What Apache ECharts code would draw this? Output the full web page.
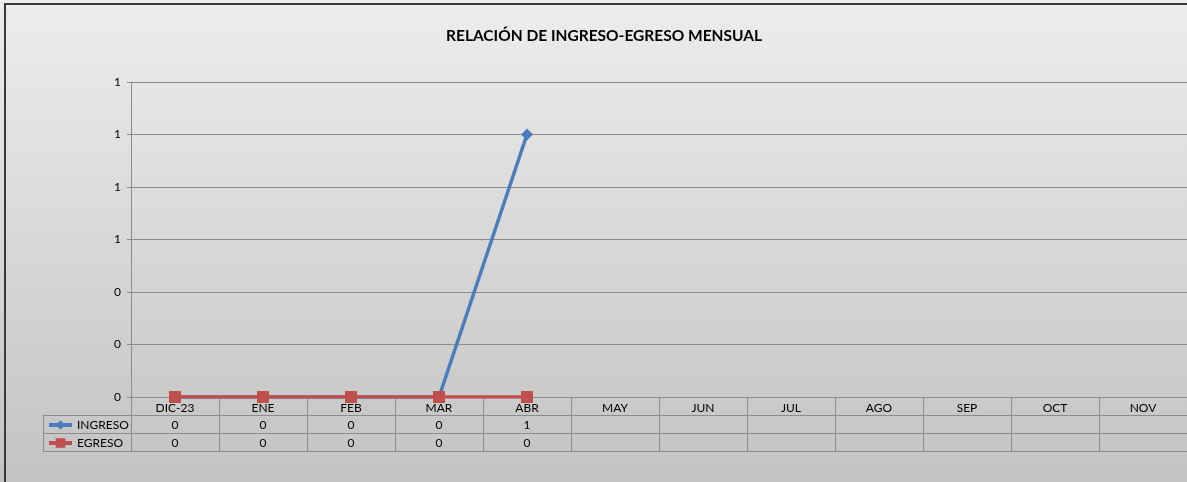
<!DOCTYPE html>
<html>
<head>
<meta charset="utf-8">
<script src="https://cdn.jsdelivr.net/npm/echarts@6/dist/echarts.min.js"></script>
<style>
  html, body { margin: 0; padding: 0; }
  #chart { width: 1187px; height: 482px; }
</style>
</head>
<body>
<div id="chart"></div>
<script>
// data
var months = ['DIC-23', 'ENE', 'FEB', 'MAR', 'ABR', 'MAY', 'JUN', 'JUL', 'AGO', 'SEP', 'OCT', 'NOV']
var ingreso = [0, 0, 0, 0, 1, null, null, null, null, null, null, null]
var egreso = [0, 0, 0, 0, 0, null, null, null, null, null, null, null]

var gridColor = '#8c8c8c'
var fontFam = 'Lato, "Open Sans", sans-serif'

function cellText(arr) {
  return function (v, i) {
    return arr[i] == null ? '' : String(arr[i])
  }
}

function tableAxis(offset, formatter) {
  return {
    type: 'category',
    data: months,
    position: 'bottom',
    offset: offset,
    boundaryGap: true,
    axisLine: { show: true, lineStyle: { color: gridColor, width: 1 } },
    axisTick: { show: false },
    axisLabel: {
      show: !!formatter,
      interval: 0,
      margin: 4,
      color: '#000',
      fontSize: 12,
      fontFamily: fontFam,
      formatter: formatter || ''
    },
    splitLine: { show: false }
  }
}

var chart = echarts.init(document.getElementById('chart'))
var option = {
  backgroundColor: new echarts.graphic.LinearGradient(0, 0, 0, 1, [
    { offset: 0, color: '#ededed' },
    { offset: 1, color: '#c3c3c3' }
  ]),
  animation: false,
  title: {
    text: 'RELACIÓN DE INGRESO-EGRESO MENSUAL',
    left: 441,
    top: 23,
    textStyle: { fontSize: 15.5, fontWeight: 'bold', color: '#000', fontFamily: fontFam }
  },
  legend: {
    left: 47,
    top: 419,
    padding: 0,
    orient: 'vertical',
    itemWidth: 23,
    itemHeight: 12,
    itemGap: 6,
    lineStyle: { width: 4 },
    textStyle: { fontSize: 12, color: '#000', fontFamily: fontFam },
    data: ['INGRESO', 'EGRESO']
  },
  grid: {
    left: 131,
    top: 82,
    width: 1058,
    height: 315
  },
  xAxis: [
    {
      type: 'category',
      data: months,
      position: 'bottom',
      boundaryGap: true,
      axisLine: { show: true, lineStyle: { color: gridColor, width: 1 } },
      axisTick: { show: true, interval: 0, length: 54, lineStyle: { color: gridColor } },
      axisLabel: { interval: 0, margin: 5, color: '#000', fontSize: 12, fontFamily: fontFam },
      splitLine: { show: false }
    },
    tableAxis(18, cellText(ingreso)),
    tableAxis(36, cellText(egreso)),
    tableAxis(54, null)
  ],
  yAxis: {
    type: 'value',
    min: 0,
    max: 1.2,
    interval: 0.2,
    axisLine: { show: true, lineStyle: { color: gridColor } },
    axisTick: { show: true, length: 4, lineStyle: { color: gridColor } },
    axisLabel: {
      margin: 10,
      color: '#000',
      fontSize: 12,
      fontFamily: fontFam,
      formatter: function (v) { return String(Math.round(v)) }
    },
    splitLine: { show: true, lineStyle: { color: gridColor, width: 1 } }
  },
  graphic: [
    { type: 'rect', shape: { x: 5, y: 4, width: 1200, height: 500 }, style: { fill: 'none', stroke: '#3a3a3a', lineWidth: 2 }, silent: true },
    { type: 'line', shape: { x1: 43, y1: 415.5, x2: 131, y2: 415.5 }, style: { stroke: gridColor, lineWidth: 1 } },
    { type: 'line', shape: { x1: 43, y1: 433.5, x2: 131, y2: 433.5 }, style: { stroke: gridColor, lineWidth: 1 } },
    { type: 'line', shape: { x1: 43, y1: 451.5, x2: 131, y2: 451.5 }, style: { stroke: gridColor, lineWidth: 1 } },
    { type: 'line', shape: { x1: 43.5, y1: 415, x2: 43.5, y2: 452 }, style: { stroke: gridColor, lineWidth: 1 } }
  ],
  series: [
    {
      name: 'INGRESO',
      type: 'line',
      data: ingreso,
      symbol: 'diamond',
      symbolSize: 12,
      lineStyle: { width: 3.5, color: '#4a7ebb' },
      itemStyle: { color: '#4a7ebb' }
    },
    {
      name: 'EGRESO',
      type: 'line',
      data: egreso,
      symbol: 'rect',
      symbolSize: 12,
      lineStyle: { width: 3.5, color: '#c0504d' },
      itemStyle: { color: '#c0504d' }
    }
  ]
}
chart.setOption(option)
</script>
</body>
</html>
